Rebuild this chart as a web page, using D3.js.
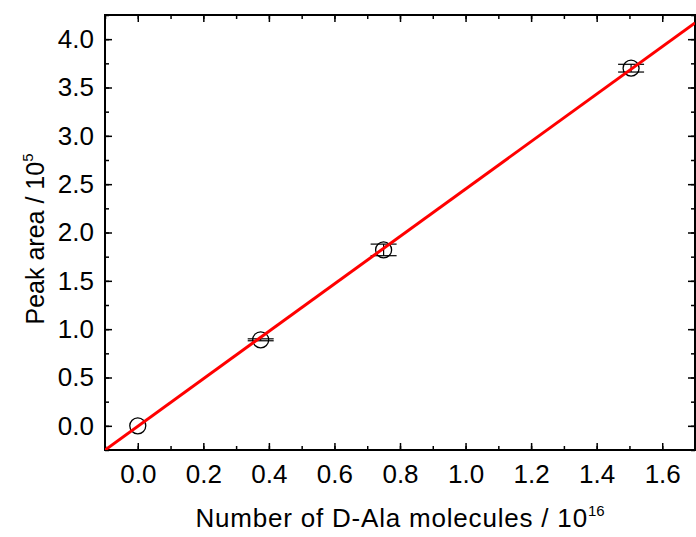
<!DOCTYPE html>
<html>
<head>
<meta charset="utf-8">
<script src="https://cdn.jsdelivr.net/npm/d3@7"></script>
<style>
  body { margin: 0; background: #fff; }
  text { font-family: "Liberation Sans", Arial, sans-serif; fill: #000; }
</style>
</head>
<body>
<div id="chart"></div>
<script>
// data
const molecules = [0, 0.375, 0.75, 1.505];     // x, 10^16
const peakArea = [0, 0.89, 1.82, 3.70];        // y, 10^5
const peakErr = [0, 0.01, 0.06, 0.04];
const fitSlope = 2.455;
const fitIntercept = -0.005;
const xTicks = [0, 0.2, 0.4, 0.6, 0.8, 1.0, 1.2, 1.4, 1.6];
const yTicks = [0, 0.5, 1.0, 1.5, 2.0, 2.5, 3.0, 3.5, 4.0];

const W = 696, H = 537;
const mLeft = 105, mRight = 695, mTop = 15, mBottom = 450;

const svg = d3.select("#chart").append("svg")
  .attr("width", W).attr("height", H);

const x = d3.scaleLinear().domain([-0.1, 1.7]).range([mLeft, mRight]);
const y = d3.scaleLinear().domain([-0.25, 4.25]).range([mBottom, mTop]);

svg.append("clipPath").attr("id", "clip")
  .append("rect").attr("x", mLeft).attr("y", mTop)
  .attr("width", mRight - mLeft).attr("height", mBottom - mTop);

// minor ticks
const xMinor = d3.range(-0.1, 1.71, 0.1).map(v => +v.toFixed(2));
const yMinor = d3.range(-0.25, 4.26, 0.25).map(v => +v.toFixed(2));

function axisStyle(g) {
  g.select(".domain").remove();
  g.selectAll(".tick line").attr("stroke", "#000").attr("stroke-width", 1.5);
  g.selectAll(".tick text").style("font-size", "26px");
}

// bottom
svg.append("g").attr("transform", `translate(0,${mBottom})`)
  .call(d3.axisBottom(x).tickValues(xMinor).tickSize(-4).tickFormat(""))
  .call(axisStyle);
svg.append("g").attr("transform", `translate(0,${mBottom})`)
  .call(d3.axisBottom(x).tickValues(xTicks).tickSize(-7).tickPadding(15).tickFormat(d3.format(".1f")))
  .call(axisStyle);
// top
svg.append("g").attr("transform", `translate(0,${mTop})`)
  .call(d3.axisTop(x).tickValues(xMinor).tickSize(-4).tickFormat(""))
  .call(axisStyle);
svg.append("g").attr("transform", `translate(0,${mTop})`)
  .call(d3.axisTop(x).tickValues(xTicks).tickSize(-7).tickFormat(""))
  .call(axisStyle);
// left
svg.append("g").attr("transform", `translate(${mLeft},0)`)
  .call(d3.axisLeft(y).tickValues(yMinor).tickSize(-4).tickFormat(""))
  .call(axisStyle);
svg.append("g").attr("transform", `translate(${mLeft},0)`)
  .call(d3.axisLeft(y).tickValues(yTicks).tickSize(-7).tickPadding(11).tickFormat(d3.format(".1f")))
  .call(axisStyle);
// right
svg.append("g").attr("transform", `translate(${mRight},0)`)
  .call(d3.axisRight(y).tickValues(yMinor).tickSize(-4).tickFormat(""))
  .call(axisStyle);
svg.append("g").attr("transform", `translate(${mRight},0)`)
  .call(d3.axisRight(y).tickValues(yTicks).tickSize(-7).tickFormat(""))
  .call(axisStyle);

// frame
svg.append("rect")
  .attr("x", mLeft).attr("y", mTop)
  .attr("width", mRight - mLeft).attr("height", mBottom - mTop)
  .attr("fill", "none").attr("stroke", "#000").attr("stroke-width", 2);

const pts = molecules.map((m, i) => ({ x: m, y: peakArea[i], e: peakErr[i] }));

// error bars
const eb = svg.append("g").attr("stroke", "#000").attr("stroke-width", 1.2);
pts.filter(d => d.e > 0).forEach(d => {
  eb.append("line")
    .attr("x1", x(d.x)).attr("x2", x(d.x))
    .attr("y1", y(d.y - d.e)).attr("y2", y(d.y + d.e));
  [d.y - d.e, d.y + d.e].forEach(v => {
    eb.append("line")
      .attr("x1", x(d.x) - 13).attr("x2", x(d.x) + 13)
      .attr("y1", y(v)).attr("y2", y(v));
  });
});

// markers
svg.append("g").selectAll("circle")
  .data(pts).enter().append("circle")
  .attr("cx", d => x(d.x)).attr("cy", d => y(d.y))
  .attr("r", 8)
  .attr("fill", "none").attr("stroke", "#000").attr("stroke-width", 1.3);

// linear fit
const fitX = [-0.1, 1.7];
svg.append("path")
  .datum(fitX)
  .attr("clip-path", "url(#clip)")
  .attr("fill", "none")
  .attr("stroke", "#ff0000")
  .attr("stroke-width", 3)
  .attr("d", d3.line().x(d => x(d)).y(d => y(fitSlope * d + fitIntercept)));

// axis titles
const xt = svg.append("text")
  .attr("x", (mLeft + mRight) / 2).attr("y", 527)
  .attr("text-anchor", "middle")
  .style("font-size", "26px")
  .style("letter-spacing", "0.8px");
xt.append("tspan").text("Number of D-Ala molecules / 10");
xt.append("tspan").attr("dy", -11).style("font-size", "15px").style("letter-spacing", "0px").text("16");

const yt = svg.append("text")
  .attr("transform", "translate(44,239) rotate(-90)")
  .attr("text-anchor", "middle")
  .style("font-size", "25px");
yt.append("tspan").text("Peak area / 10");
yt.append("tspan").attr("dy", -11).style("font-size", "15px").text("5");
</script>
</body>
</html>
